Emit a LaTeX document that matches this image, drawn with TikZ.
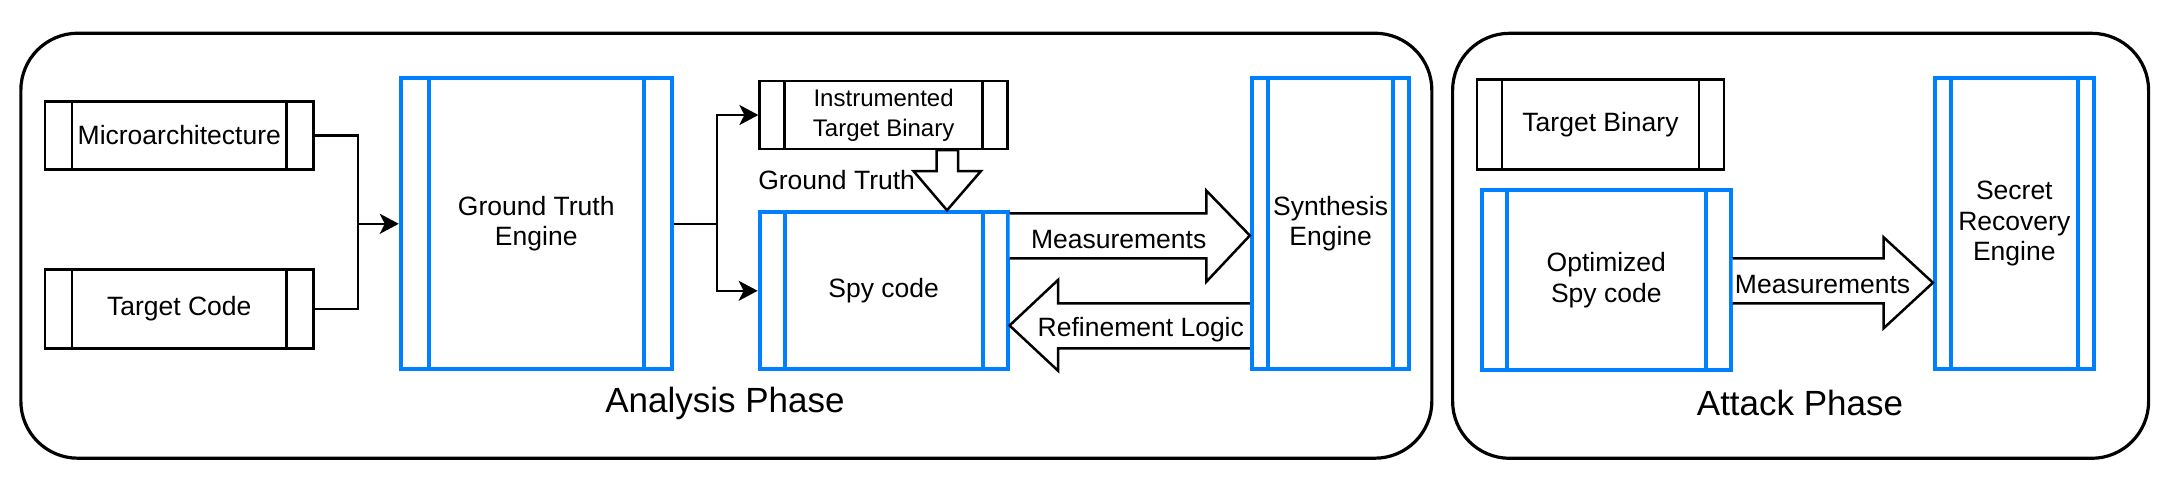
\documentclass[tikz,border=0pt]{standalone}
\usepackage{fontspec}
\setmainfont{Liberation Sans}
\usetikzlibrary{arrows.meta,calc}
\definecolor{dblue}{HTML}{007FFF}
\newcommand{\fsz}[2]{\fontsize{#1}{#2}\selectfont}
\tikzset{
  blk/.style={draw=black, line width=2.5pt, fill=white, inner sep=0pt, align=center,
    font=\fsz{26.5}{30.5},
    path picture={\draw[black, line width=2.5pt]
      ([xshift=#1]path picture bounding box.north west) -- ([xshift=#1]path picture bounding box.south west)
      ([xshift=-#1]path picture bounding box.north east) -- ([xshift=-#1]path picture bounding box.south east);}},
  blu/.style={draw=dblue, line width=4pt, fill=white, inner sep=0pt, align=center,
    font=\fsz{26.5}{30.5},
    path picture={\draw[dblue, line width=4pt]
      ([xshift=#1]path picture bounding box.north west) -- ([xshift=#1]path picture bounding box.south west)
      ([xshift=-#1]path picture bounding box.north east) -- ([xshift=-#1]path picture bounding box.south east);}},
  phasebox/.style={draw=black, line width=3.2pt, rounded corners=57pt, inner sep=0pt},
  phaselabel/.style={font=\fsz{35}{40}, inner sep=0pt},
  conn/.style={draw=black, line width=2.5pt},
  arr/.style={conn, -{Stealth[length=19pt, width=20pt, inset=5pt]}},
  barrow/.style={draw=black, line width=2.5pt, fill=white, line join=miter},
  lbl/.style={font=\fsz{26.5}{30.5}, inner sep=0pt}
}
\begin{document}
\begin{tikzpicture}[x=1pt,y=-1pt]
\useasboundingbox (0,0) rectangle (2166,492);
% phase containers
\node[phasebox, minimum width=1411pt, minimum height=425pt] (analysis) at (726.35,245.7) {};
\node[phasebox, minimum width=696pt, minimum height=425pt] (attack) at (1800.6,245.8) {};
\node[phaselabel] (analysislbl) at (725,403) {Analysis Phase};
\node[phaselabel] (attacklbl) at (1800,403) {Attack Phase};

% analysis nodes
\node[blk=27pt, minimum width=268.6pt, minimum height=67.6pt] (micro) at (179.3,135.5) {Microarchitecture};
\node[blk=27pt, minimum width=268.6pt, minimum height=79pt] (tcode) at (179.3,308.8) {Target Code};
\node[blu=28pt, minimum width=270.9pt, minimum height=291pt] (gt) at (536.25,223.8) {Ground Truth\\Engine};
\node[blk=25pt, minimum width=247.9pt, minimum height=68pt, font=\fsz{24}{30}] (inst) at (883.6,115) {Instrumented\\Target Binary};
\node[blu=25pt, minimum width=247.9pt, minimum height=157pt] (spy) at (883.6,290.8) {Spy code};
\node[blu=16pt, minimum width=157.5pt, minimum height=291pt] (synth) at (1330.6,223.8) {Synthesis\\Engine};

% attack nodes
\node[blk=25pt, minimum width=246.7pt, minimum height=90pt] (tbin) at (1600.5,124.3) {Target Binary};
\node[blu=25pt, minimum width=248.7pt, minimum height=180pt] (ospy) at (1606.3,280) {Optimized\\Spy code};
\node[blu=16pt, minimum width=158.7pt, minimum height=291pt] (secret) at (2014.3,223.8) {Secret\\Recovery\\Engine};

% connectors
\coordinate (j1) at (358.1,223.8);
\coordinate (j2) at (717,223.8);
\draw[conn] (micro.east) -| (j1);
\draw[conn] (tcode.east) -| (j1);
\draw[arr] (j1) -- (gt.west);
\draw[conn] (gt.east) -- (j2);
\draw[arr] (j2) |- (inst.west);
\draw[arr] (j2) |- (spy.west);

% block arrow: ground truth
\draw[barrow] (inst.south -| 936.5,0) -- (936.5,171) -- (913.5,171) -- (spy.north -| 947,0) -- (981,171) -- (958,171) -- (inst.south -| 958,0) -- cycle;
\node[lbl] (gtlabel) at (836.6,180) {Ground Truth};

% block arrow: measurements (analysis)
\draw[barrow] (spy.east |- 0,213.3) -- (1206.4,213.3) -- (1206.4,190.7) -- (synth.west |- 0,235.5) -- (1206.4,281.7) -- (1206.4,258.3) -- (spy.east |- 0,258.3);
\node[lbl] (meas1) at (1118.7,239.3) {Measurements};

% block arrow: refinement logic
\draw[barrow] (synth.west |- 0,303.3) -- (1058,303.3) -- (1058,280) -- (spy.east |- 0,325.5) -- (1058,370.7) -- (1058,348.3) -- (synth.west |- 0,348.3);
\node[lbl] (refine) at (1140.8,330) {Refinement Logic};

% block arrow: measurements (attack)
\draw[barrow] (ospy.east |- 0,258.3) -- (1883.6,258.3) -- (1883.6,237.3) -- (secret.west |- 0,282.7) -- (1883.6,328.3) -- (1883.6,303.3) -- (ospy.east |- 0,303.3);
\node[lbl] (meas2) at (1822.6,285) {Measurements};
\end{tikzpicture}
\end{document}
